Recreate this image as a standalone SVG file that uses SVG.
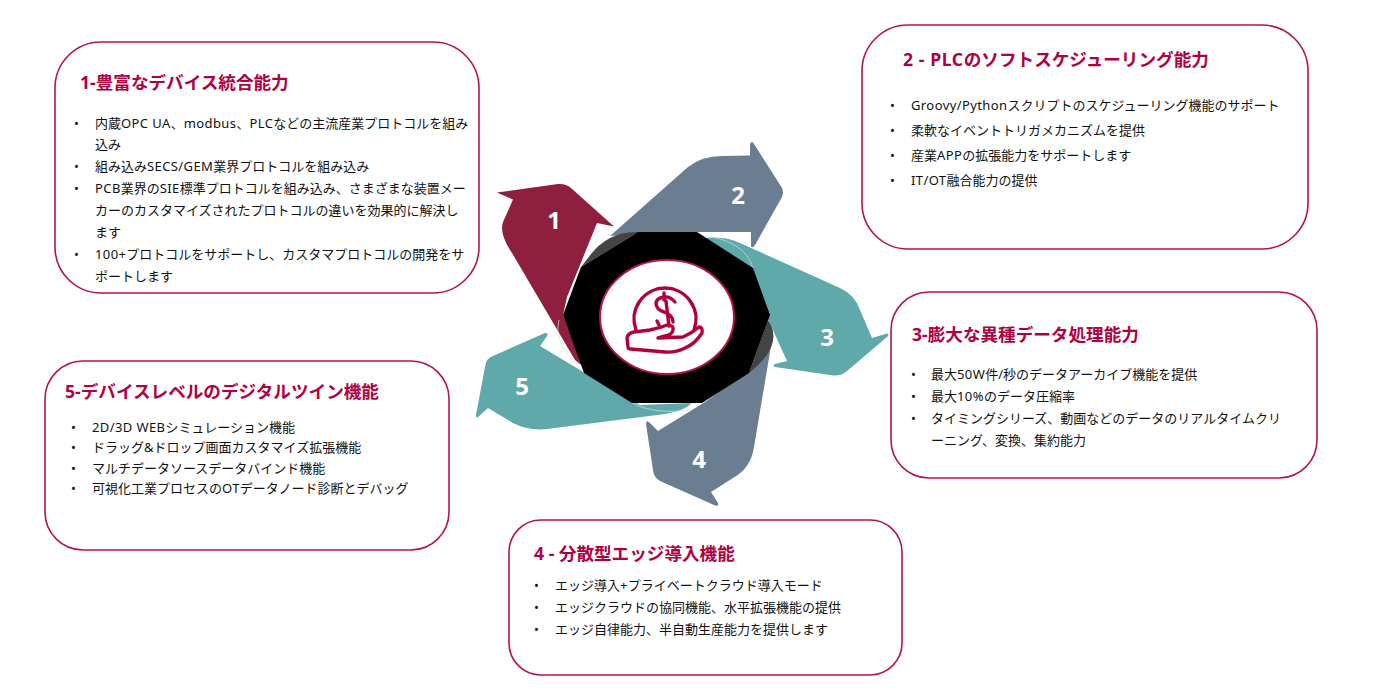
<svg xmlns="http://www.w3.org/2000/svg" width="1380" height="700" viewBox="0 0 1380 700">
<style>
text{font-family:"Noto Sans","Noto Sans CJK JP","Open Sans",sans-serif;font-size:13px;fill:#111}
.l{letter-spacing:.4px}
.t{font-size:17.6px;font-weight:700;fill:#b0003f}
.t .l{letter-spacing:.6px}
.n{font-size:24px;font-weight:700;fill:#fff;text-anchor:middle;font-family:"Open Sans","Noto Sans",sans-serif}
.box{fill:#fff;stroke:#b5134f;stroke-width:1.6}
.ic{fill:none;stroke:#b0003f;stroke-width:3.4;stroke-linecap:round;stroke-linejoin:round}
</style>
<rect width="1380" height="700" fill="#fff"/>
<g id="connectors">
<path id="arrow-1" fill="#8f1f3f" d="M497 192.500L558 184Q566 183.500 571 188L614 226.500L597 223L567 297L563 315L582 365L600 380L575 360L512 253Q499 234 503 222L513 199.500Z"/>
<path id="arrow-2" fill="#6b7d90" d="M610 236L688 167Q702 156 722 156L750 155.500L750 144Q752 140 754 144L782 188Q784 193 782 197L755 245Q752 249 751 246L751 232L660 232Z"/>
<path id="arrow-3" fill="#5fa9aa" d="M703 238Q725 236 740 243L840 288Q855 295 860 310L872 338L887 333.500Q890 334 887 337L847 371Q840 377 830 375L775 367Q772 365 775 364L787 361L767 317L735 260Z"/>
<path id="arrow-4" fill="#6b7d90" d="M772 340L754 447Q751 468 733 478L711 492L718 503Q719 507 714 505L660 481Q654 478 653 470L646 424Q646 419 650 423L658 431L705 402L750 370Z"/>
<path id="arrow-5" fill="#5fa9aa" d="M692 403Q684 411 665 414L547 429Q528 431 513 423L488 408L478 417Q476 419 476 415L485 367Q486 358 493 356L545 333Q549 333 547 336L540 346L585 373L640 405Z"/>
<path fill="#444" d="M638 232Q607 231 588 258L581 267ZM768 320Q785 345 749 373Z"/>
<path fill="none" stroke="#dcdcdc" stroke-width=".7" d="M700 235Q745 240 753 268M580 367Q553 345 559 320M632 403Q655 415 690 410"/>
</g>
<g id="hub">
<polygon fill="#000" points="638,232 697,232 753,268 770,315 749,373 702,403 632,403 584,373 563,315 581,267"/>
<ellipse cx="667" cy="317" rx="67" ry="57" fill="#fff" stroke="#b5134f" stroke-width="2"/>
<path class="ic" d="M636 330A31 31 0 1 1 694 330"/>
<path class="ic" d="M628 347L627 338Q628 333 634 332L650 330Q660 328 667 325Q674 325 673 330Q672 335 665 336L658 338L683 337Q692 333 699 327Q703 327 702 333Q695 344 685 348Q675 353 665 352L631 349Q628 349 628 347Z"/>
<path class="ic" d="M675 302Q670 296 664 297Q656 298 656 304Q657 310 664 312Q673 315 673 322M664 293L664 300M666 301L669 326M657 321L659 325"/>
</g>
<g id="n1"><rect class="box" x="55" y="42" width="424" height="251" rx="46"/>
<text class="t" x="80" y="89">1-豊富なデバイス統合能力</text>
<text x="74" y="128">•</text><text x="95" y="128">内蔵<tspan class="l">OPC UA</tspan>、<tspan class="l">modbus</tspan>、<tspan class="l">PLC</tspan>などの主流産業プロトコルを組み</text>
<text x="95" y="149">込み</text>
<text x="74" y="171">•</text><text x="95" y="171">組み込み<tspan class="l">SECS/GEM</tspan>業界プロトコルを組み込み</text>
<text x="74" y="193">•</text><text x="95" y="193"><tspan class="l">PCB</tspan>業界の<tspan class="l">SIE</tspan>標準プロトコルを組み込み、さまざまな装置メー</text>
<text x="95" y="215">カーのカスタマイズされたプロトコルの違いを効果的に解決し</text>
<text x="95" y="237">ます</text>
<text x="74" y="259">•</text><text x="95" y="259"><tspan class="l">100+</tspan>プロトコルをサポートし、カスタマプロトコルの開発をサ</text>
<text x="95" y="281">ポートします</text>
<text class="n" x="554" y="229">1</text></g>
<g id="n2"><rect class="box" x="862" y="25" width="446" height="224" rx="46"/>
<text class="t" x="903" y="66"><tspan class="l">2 - PLC</tspan>のソフトスケジューリング能力</text>
<text x="890" y="110">•</text><text x="911" y="110"><tspan class="l">Groovy/Python</tspan>スクリプトのスケジューリング機能のサポート</text>
<text x="890" y="135">•</text><text x="911" y="135">柔軟なイベントトリガメカニズムを提供</text>
<text x="890" y="160">•</text><text x="911" y="160">産業<tspan class="l">APP</tspan>の拡張能力をサポートします</text>
<text x="890" y="185">•</text><text x="911" y="185"><tspan class="l">IT/OT</tspan>融合能力の提供</text>
<text class="n" x="738" y="204">2</text></g>
<g id="n3"><rect class="box" x="891" y="292" width="426" height="186" rx="38"/>
<text class="t" x="912" y="341">3-膨大な異種データ処理能力</text>
<text x="911" y="379">•</text><text x="931" y="379">最大<tspan class="l">50W</tspan>件/秒のデータアーカイブ機能を提供</text>
<text x="911" y="401">•</text><text x="931" y="401">最大<tspan class="l">10%</tspan>のデータ圧縮率</text>
<text x="911" y="423">•</text><text x="931" y="423">タイミングシリーズ、動画などのデータのリアルタイムクリ</text>
<text x="931" y="445">ーニング、変換、集約能力</text>
<text class="n" x="827" y="346">3</text></g>
<g id="n4"><rect class="box" x="509" y="520" width="393" height="155" rx="32"/>
<text class="t" x="534" y="560">4 - 分散型エッジ導入機能</text>
<text x="534" y="590">•</text><text x="555" y="590">エッジ導入<tspan class="l">+</tspan>プライベートクラウド導入モード</text>
<text x="534" y="612">•</text><text x="555" y="612">エッジクラウドの協同機能、水平拡張機能の提供</text>
<text x="534" y="634">•</text><text x="555" y="634">エッジ自律能力、半自動生産能力を提供します</text>
<text class="n" x="699" y="468">4</text></g>
<g id="n5"><rect class="box" x="45" y="361" width="404" height="189" rx="38"/>
<text class="t" x="65" y="398">5-デバイスレベルのデジタルツイン機能</text>
<text x="71" y="432">•</text><text x="92" y="432"><tspan class="l">2D/3D WEB</tspan>シミュレーション機能</text>
<text x="71" y="452">•</text><text x="92" y="452">ドラッグ&amp;ドロップ画面カスタマイズ拡張機能</text>
<text x="71" y="473">•</text><text x="92" y="473">マルチデータソースデータバインド機能</text>
<text x="71" y="493">•</text><text x="92" y="493">可視化工業プロセスの<tspan class="l">OT</tspan>データノード診断とデバッグ</text>
<text class="n" x="522" y="395">5</text></g>
</svg>
